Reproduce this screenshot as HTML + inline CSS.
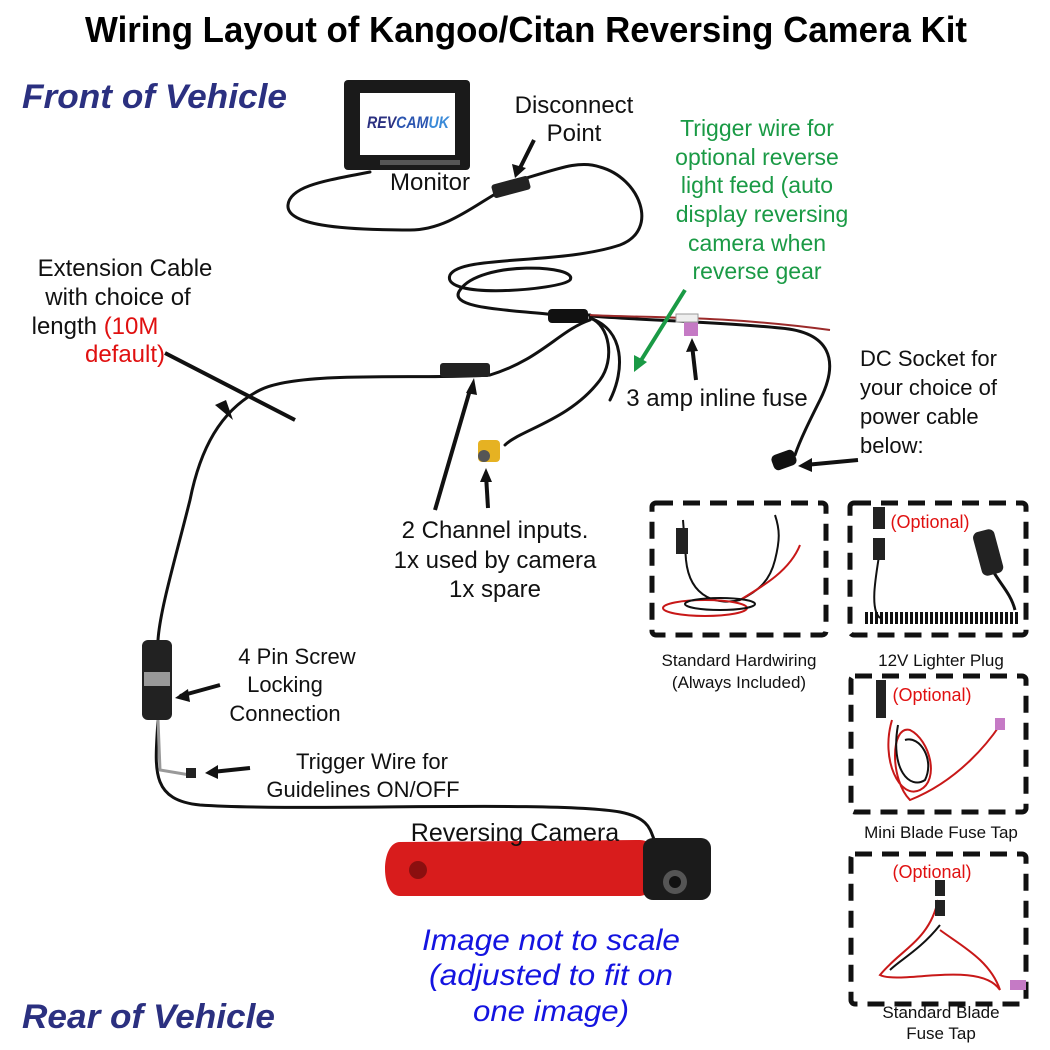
<!DOCTYPE html>
<html><head><meta charset="utf-8"><style>
html,body{margin:0;padding:0;background:#fff}
svg{display:block}
text{font-family:"Liberation Sans",sans-serif}
</style></head><body>
<svg width="1050" height="1050" viewBox="0 0 1050 1050" xmlns="http://www.w3.org/2000/svg">
<rect width="1050" height="1050" fill="#fff"/>
<text x="526" y="42" text-anchor="middle" font-size="36" font-weight="bold" textLength="882" lengthAdjust="spacingAndGlyphs">Wiring Layout of Kangoo/Citan Reversing Camera Kit</text>
<text x="22" y="108" font-size="34" font-weight="bold" font-style="italic" fill="#2b3080" textLength="265" lengthAdjust="spacingAndGlyphs">Front of Vehicle</text>
<text x="22" y="1028" font-size="34" font-weight="bold" font-style="italic" fill="#2b3080" textLength="253" lengthAdjust="spacingAndGlyphs">Rear of Vehicle</text>

<!-- cables -->
<g fill="none" stroke="#111" stroke-width="3" stroke-linecap="round">
<path d="M370 172 C330 180 290 185 288 205 C286 225 340 230 410 230 C450 230 480 200 510 186"/>
<path d="M520 180 C560 168 580 160 600 167 C640 178 660 230 620 245 C560 265 460 255 450 275 C440 300 560 290 570 280 C580 265 480 260 460 290 C445 310 520 310 555 315"/>
<path d="M555 315 L590 315"/>
<path d="M590 318 C610 325 615 360 600 380 C570 420 520 430 505 445"/>
<path d="M590 318 C625 330 625 370 610 400"/>
<path d="M590 316 C640 320 720 322 780 328 C830 332 840 360 820 400 C810 420 800 440 795 455" />
<path d="M590 320 C560 330 540 360 490 375 C420 380 300 370 260 390 C220 410 200 450 190 500 C175 560 160 610 158 640"/>
<path d="M158 720 C155 770 150 800 200 805 C300 812 550 800 620 812 C650 818 650 830 655 842"/>
</g>
<path d="M590 315 C640 318 720 315 830 330" fill="none" stroke="#9b2a2a" stroke-width="2"/>
<rect x="548" y="309" width="40" height="14" rx="4" fill="#111"/>
<rect x="684" y="320" width="14" height="16" fill="#c57ac5"/>
<rect x="676" y="314" width="22" height="8" fill="#eee" stroke="#999"/>
<rect x="492" y="180" width="38" height="14" rx="3" fill="#222" transform="rotate(-15 511 187)"/>
<rect x="440" y="363" width="50" height="14" rx="3" fill="#222"/>
<rect x="478" y="440" width="22" height="22" rx="4" fill="#e6b222"/>
<circle cx="484" cy="456" r="6" fill="#555"/>
<rect x="772" y="452" width="24" height="16" rx="5" fill="#111" transform="rotate(-20 784 460)"/>
<rect x="142" y="640" width="30" height="80" rx="6" fill="#222"/>
<rect x="144" y="672" width="26" height="14" fill="#999"/>
<path d="M158 720 L160 770 L190 775" fill="none" stroke="#999" stroke-width="3"/>
<rect x="186" y="768" width="10" height="10" fill="#222"/>

<!-- monitor -->
<rect x="344" y="80" width="126" height="90" rx="4" fill="#1a1a1a"/>
<rect x="360" y="93" width="95" height="62" fill="#fff"/>
<text x="367" y="128" font-size="17" font-weight="bold" font-style="italic" fill="#2b3080" textLength="82" lengthAdjust="spacingAndGlyphs">REV<tspan fill="#2b55b0">CAM</tspan><tspan fill="#3a8ad8">UK</tspan></text>
<rect x="380" y="160" width="80" height="5" fill="#555"/>

<!-- camera -->
<path d="M400 842 L640 840 C670 842 660 895 640 896 L400 896 C380 896 380 842 400 842Z" fill="#d81c1c"/>
<path d="M650 842 C690 842 700 880 690 893 L650 895Z" fill="#e83a3a"/>
<circle cx="418" cy="870" r="9" fill="#8b0f0f"/>
<rect x="643" y="838" width="68" height="62" rx="10" fill="#1b1b1b"/>
<circle cx="675" cy="882" r="12" fill="#555"/><circle cx="675" cy="882" r="6" fill="#111"/>

<!-- arrows -->
<g stroke="#111" stroke-width="4" fill="#111">
<line x1="534" y1="140" x2="519" y2="170"/>
<line x1="295" y1="420" x2="165" y2="353"/>
<line x1="435" y1="510" x2="470" y2="390"/>
<line x1="488" y1="508" x2="486" y2="475"/>
<line x1="696" y1="380" x2="692" y2="345"/>
<line x1="858" y1="460" x2="805" y2="465"/>
<line x1="220" y1="685" x2="180" y2="696"/>
<line x1="250" y1="768" x2="212" y2="772"/>
</g>
<g fill="#111">
<polygon points="515,178 512,164 526,168"/>
<polygon points="233,420 215,405 226,400"/>
<polygon points="474,378 466,393 477,395"/>
<polygon points="486,468 480,482 492,482"/>
<polygon points="692,338 686,352 698,351"/>
<polygon points="798,466 812,458 812,472"/>
<polygon points="175,698 188,689 190,702"/>
<polygon points="205,773 218,765 218,779"/>
</g>
<line x1="685" y1="290" x2="640" y2="362" stroke="#1a9a45" stroke-width="4"/>
<polygon points="634,372 634,355 647,362" fill="#1a9a45"/>

<!-- labels -->
<g font-size="24" text-anchor="middle" fill="#111">
<text x="574" y="113">Disconnect</text>
<text x="574" y="141">Point</text>
<text x="430" y="190">Monitor</text>
<text x="125" y="276">Extension Cable</text>
<text x="118" y="305">with choice of</text>
<text x="95" y="334">length <tspan fill="#e01010">(10M</tspan></text>
<text x="125" y="362" fill="#e01010">default)</text>
<text x="717" y="406">3 amp inline fuse</text>
<text x="495" y="538">2 Channel inputs.</text>
<text x="495" y="568">1x used by camera</text>
<text x="495" y="597">1x spare</text>
<text x="297" y="664" font-size="22">4 Pin Screw</text>
<text x="285" y="692" font-size="22">Locking</text>
<text x="285" y="721" font-size="22">Connection</text>
<text x="372" y="769" font-size="22">Trigger Wire for</text>
<text x="363" y="797" font-size="22">Guidelines ON/OFF</text>
<text x="515" y="841" font-size="25">Reversing Camera</text>
</g>
<g font-size="22" fill="#111">
<text x="860" y="366">DC Socket for</text>
<text x="860" y="395">your choice of</text>
<text x="860" y="424">power cable</text>
<text x="860" y="453">below:</text>
</g>
<g font-size="23" text-anchor="middle" fill="#1a9a45">
<text x="757" y="136">Trigger wire for</text>
<text x="757" y="165">optional reverse</text>
<text x="757" y="193">light feed (auto</text>
<text x="762" y="222">display reversing</text>
<text x="757" y="251">camera when</text>
<text x="757" y="279">reverse gear</text>
</g>
<g font-size="30" text-anchor="middle" fill="#1414e0" font-style="italic">
<text x="551" y="950" textLength="258" lengthAdjust="spacingAndGlyphs">Image not to scale</text>
<text x="551" y="985" textLength="244" lengthAdjust="spacingAndGlyphs">(adjusted to fit on</text>
<text x="551" y="1021" textLength="156" lengthAdjust="spacingAndGlyphs">one image)</text>
</g>

<!-- boxes -->
<g fill="none" stroke="#111" stroke-width="5" stroke-dasharray="17,10">
<rect x="652" y="503" width="174" height="132" rx="4"/>
<rect x="850" y="503" width="176" height="132" rx="4"/>
<rect x="851" y="676" width="175" height="136" rx="4"/>
<rect x="851" y="854" width="175" height="150" rx="4"/>
</g>
<!-- box contents -->
<g fill="none" stroke-width="2">
<path d="M683 520 L686 560 C690 600 720 605 740 600 C760 590 770 580 775 560 C780 540 780 530 775 515" stroke="#111"/>
<path d="M740 600 C765 585 790 570 800 545" stroke="#c81818"/>
<ellipse cx="705" cy="608" rx="42" ry="8" stroke="#c81818"/>
<ellipse cx="720" cy="604" rx="35" ry="6" stroke="#111"/>
<path d="M880 550 C875 580 870 610 880 618" stroke="#111"/>
<path d="M865 618 L1020 618" stroke="#111" stroke-width="12" stroke-dasharray="3,2"/>
<path d="M1015 610 C1010 590 995 580 988 560" stroke="#111" stroke-width="3"/>
<path d="M892 720 C880 760 900 800 920 790 C940 780 930 740 910 730 C890 725 890 780 910 800 C960 780 990 740 1000 725" stroke="#c81818"/>
<path d="M898 725 C890 770 910 790 925 780 C935 760 920 735 905 740" stroke="#111"/>
<path d="M938 900 C930 940 900 950 880 975 C900 985 980 960 1000 990 C990 960 960 945 940 930" stroke="#c81818"/>
<path d="M940 925 C920 950 900 960 890 970" stroke="#111"/>
</g>
<rect x="676" y="528" width="12" height="26" fill="#222"/>
<rect x="873" y="507" width="12" height="22" fill="#222"/>
<rect x="873" y="538" width="12" height="22" fill="#222"/>
<rect x="977" y="530" width="22" height="45" rx="6" fill="#222" transform="rotate(-15 988 552)"/>
<rect x="876" y="680" width="10" height="18" fill="#222"/>
<rect x="876" y="698" width="10" height="20" fill="#222"/>
<rect x="995" y="718" width="10" height="12" fill="#c57ac5"/>
<rect x="935" y="880" width="10" height="16" fill="#222"/>
<rect x="935" y="900" width="10" height="16" fill="#222"/>
<rect x="1010" y="980" width="16" height="10" fill="#c57ac5"/>

<g font-size="17" text-anchor="middle" fill="#111">
<text x="739" y="666">Standard Hardwiring</text>
<text x="739" y="688">(Always Included)</text>
<text x="941" y="666">12V Lighter Plug</text>
<text x="941" y="838">Mini Blade Fuse Tap</text>
<text x="941" y="1018">Standard Blade</text>
<text x="941" y="1039">Fuse Tap</text>
</g>
<g font-size="18" text-anchor="middle" fill="#e01010">
<text x="930" y="528">(Optional)</text>
<text x="932" y="701">(Optional)</text>
<text x="932" y="878">(Optional)</text>
</g>
</svg>
</body></html>
